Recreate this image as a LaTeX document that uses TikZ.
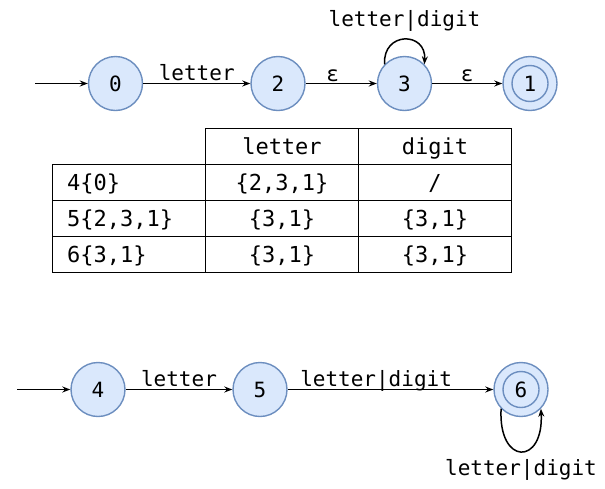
\documentclass[tikz,border=0pt]{standalone}
\usepackage{fontspec}
\setmonofont{DejaVu Sans Mono}
\usetikzlibrary{arrows.meta}
\definecolor{stateblue}{HTML}{6C8EBF}
\definecolor{statefill}{HTML}{DAE8FC}
\begin{document}
\begin{tikzpicture}[x=1pt,y=-1pt,
  state/.style={circle, draw=stateblue, fill=statefill, line width=1.4pt,
    minimum size=54pt, inner sep=0pt, font=\ttfamily\fontsize{21}{24}\selectfont},
  accept/.style={state, path picture={\draw[stateblue, line width=1.4pt]
    (path picture bounding box.center) circle (18pt);}},
  edge/.style={draw=black, line width=1.5pt, -{Stealth[length=8pt,width=6pt]}},
  lbl/.style={font=\ttfamily\fontsize{21}{24}\selectfont, inner sep=0pt, anchor=base},
  cell/.style={font=\ttfamily\fontsize{22}{26}\selectfont, inner sep=0pt, anchor=base},
  grid/.style={draw=black, line width=1.4pt}
]
\useasboundingbox (0,0) rectangle (605,488);
% top automaton
\coordinate (s0) at (35,83.5);
\node[state]  (n0) at (115.5,83.5) {0};
\node[state]  (n2) at (278,83.5) {2};
\node[state]  (n3) at (404.5,83.5) {3};
\node[accept] (n1) at (530,83.5) {1};
\draw[edge] (s0) -- (n0);
\draw[edge] (n0) -- node[lbl, pos=0.5, yshift=3.5pt] {letter} (n2);
\draw[edge] (n2) -- node[lbl, pos=0.38, yshift=2.5pt] {ε} (n3);
\draw[edge] (n3) -- node[lbl, pos=0.5, yshift=2.5pt] {ε} (n1);
\draw[edge] (n3.136) .. controls +(-2,-33) and +(2,-33) .. node[lbl, pos=0.5, yshift=13.5pt] {letter|digit} (n3.44);
% table
\draw[grid] (205.7,128.3) -- (511.3,128.3);
\draw[grid] (52.7,164.3) -- (511.3,164.3);
\draw[grid] (52.7,200.5) -- (511.3,200.5);
\draw[grid] (52.7,236.7) -- (511.3,236.7);
\draw[grid] (52.7,272.7) -- (511.3,272.7);
\draw[grid] (52.7,164.3) -- (52.7,272.7);
\draw[grid] (205.7,128.3) -- (205.7,272.7);
\draw[grid] (358.5,128.3) -- (358.5,272.7);
\draw[grid] (511.3,128.3) -- (511.3,272.7);
\node[cell] (h1) at (282,154) {letter};
\node[cell] (h2) at (435,154) {digit};
\node[cell, anchor=base west] (r1) at (67,190) {4\{0\}};
\node[cell] (r1a) at (282,190) {\{2,3,1\}};
\node[cell] (r1b) at (435,190) {/};
\node[cell, anchor=base west] (r2) at (67,226) {5\{2,3,1\}};
\node[cell] (r2a) at (282,226) {\{3,1\}};
\node[cell] (r2b) at (435,226) {\{3,1\}};
\node[cell, anchor=base west] (r3) at (67,262) {6\{3,1\}};
\node[cell] (r3a) at (282,262) {\{3,1\}};
\node[cell] (r3b) at (435,262) {\{3,1\}};
% bottom automaton
\coordinate (s4) at (17,389.5);
\node[state]  (n4) at (98,389.5) {4};
\node[state]  (n5) at (260,389.5) {5};
\node[accept] (n6) at (521,389.5) {6};
\draw[edge] (s4) -- (n4);
\draw[edge] (n4) -- node[lbl, pos=0.5, yshift=3.5pt] {letter} (n5);
\draw[edge] (n5) -- node[lbl, pos=0.43, yshift=3.5pt] {letter|digit} (n6);
\draw[edge] (n6.224) .. controls +(-3,57) and +(3,57) .. node[lbl, pos=0.5, yshift=-23.5pt] {letter|digit} (n6.316);
\end{tikzpicture}
\end{document}
